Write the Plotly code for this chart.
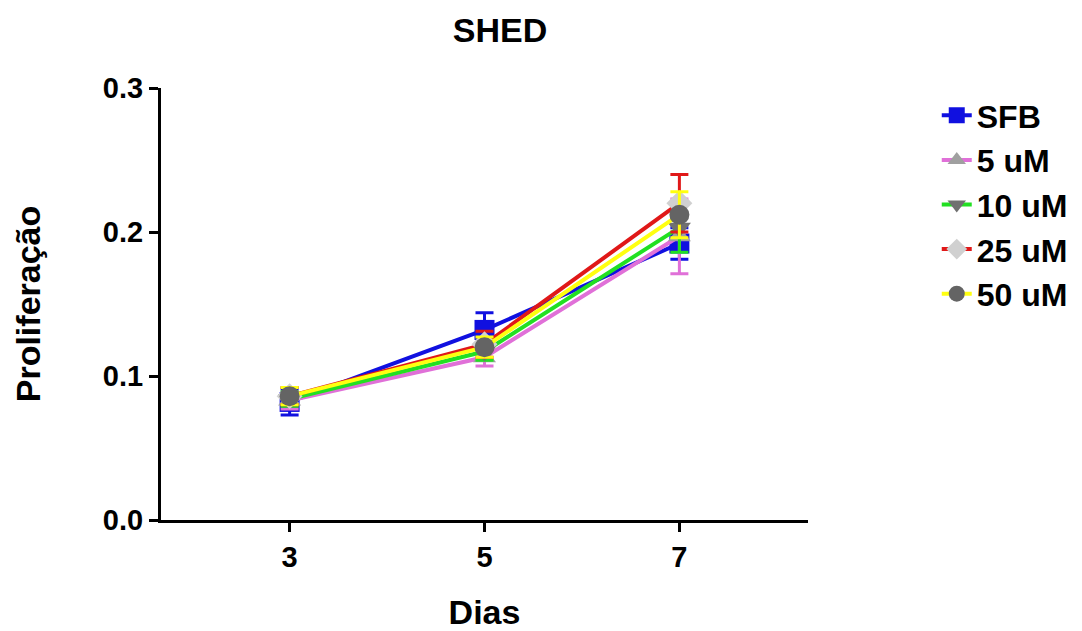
import plotly.graph_objects as go

dias = [3, 5, 7]
series_names = ["SFB", "5 uM", "10 uM", "25 uM", "50 uM"]
sfb = [0.082, 0.132, 0.192]
sfb_err = [0.009, 0.012, 0.011]
um5 = [0.083, 0.113, 0.197]
um5_err = [0.006, 0.006, 0.026]
um10 = [0.084, 0.117, 0.203]
um10_err = [0.005, 0.006, 0.017]
um25 = [0.086, 0.122, 0.220]
um25_err = [0.006, 0.009, 0.020]
um50 = [0.086, 0.120, 0.212]
um50_err = [0.006, 0.007, 0.016]
y_ticks = [0, 0.1, 0.2, 0.3]
y_ticklabels = ["0.0", "0.1", "0.2", "0.3"]

values = [sfb, um5, um10, um25, um50]
errors = [sfb_err, um5_err, um10_err, um25_err, um50_err]
line_colors = ["#1010E0", "#E070D8", "#22E022", "#E01818", "#FFFF10"]
marker_colors = ["#1010E0", "#A0A0A0", "#707070", "#D0D0D0", "#646464"]
symbols = ["square", "triangle-up", "triangle-down", "diamond", "circle"]

FONT = "Liberation Sans, Arial, sans-serif"

fig = go.Figure()
for name, y, e, lc, mc, sym in zip(series_names, values, errors, line_colors, marker_colors, symbols):
    fig.add_trace(go.Scatter(
        x=dias, y=y, name="<b>" + name + "</b>", mode="lines+markers",
        line=dict(color=lc, width=4),
        marker=dict(symbol=sym, size=20, color=mc),
        error_y=dict(type="data", array=e, visible=True, color=lc, thickness=3, width=9),
    ))

fig.update_layout(
    width=1082, height=631,
    paper_bgcolor="white", plot_bgcolor="white",
    margin=dict(l=161, r=274, t=88, b=111, autoexpand=False),
    font=dict(family=FONT, color="black"),
    title=dict(text="<b>SHED</b>", x=0.524, xref="paper", y=0.952, yref="container",
               xanchor="center", yanchor="middle", font=dict(size=34, family=FONT)),
    xaxis=dict(
        range=[1.68, 8.32], tickvals=dias, ticktext=["<b>%d</b>" % d for d in dias],
        showline=True, linecolor="black", linewidth=3,
        ticks="outside", ticklen=9, tickwidth=3, tickcolor="black",
        showgrid=False, zeroline=False, automargin=False,
        tickfont=dict(size=29, family=FONT),
        title=dict(text="<b>Dias</b>", font=dict(size=34, family=FONT), standoff=29),
    ),
    yaxis=dict(
        range=[0, 0.3], tickvals=y_ticks, ticktext=["<b>%s</b>" % t for t in y_ticklabels],
        showline=True, linecolor="black", linewidth=3,
        ticks="outside", ticklen=9, tickwidth=3, tickcolor="black",
        showgrid=False, zeroline=False, automargin=False,
        tickfont=dict(size=29, family=FONT),
        title=dict(text="<b>Proliferação</b>", font=dict(size=34, family=FONT), standoff=52),
    ),
    legend=dict(
        x=1.199, y=1.0, xanchor="left", yanchor="top",
        font=dict(size=32, family=FONT), tracegroupgap=0,
        itemsizing="trace", bgcolor="rgba(0,0,0,0)",
    ),
)

fig.write_html("out.html")
